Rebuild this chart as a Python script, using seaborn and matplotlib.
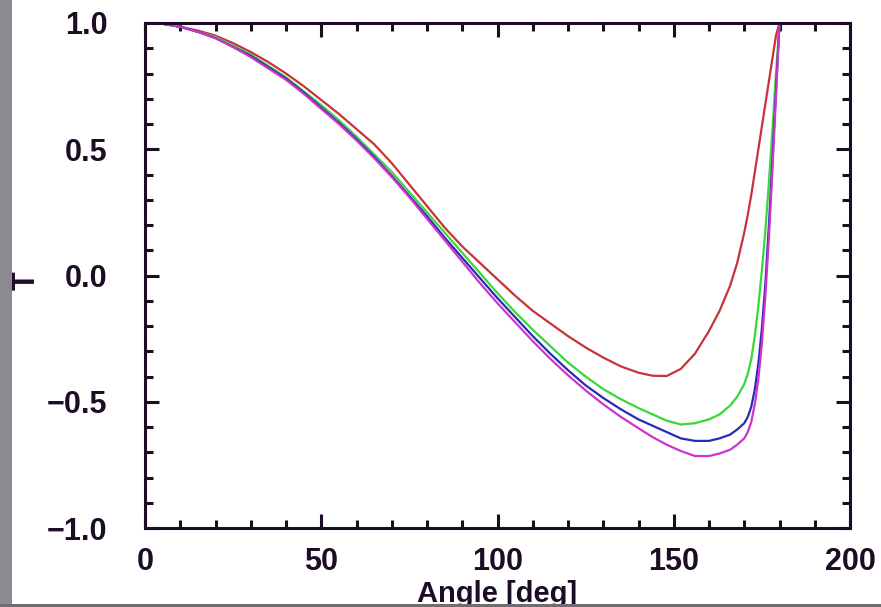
import matplotlib
matplotlib.use("Agg")
import matplotlib.pyplot as plt
import matplotlib.patches as mpatches
from matplotlib.ticker import MultipleLocator
import pandas as pd
import seaborn as sns

# Scattering angle grid (degrees)
angle = [0, 5, 10, 15, 20, 25, 30, 35, 40, 45, 50, 55, 60, 65, 70, 75, 80, 85, 90,
         95, 100, 105, 110, 115, 120, 125, 130, 135, 140,
         144, 148, 152, 156, 160, 163, 166, 168, 170, 171, 172, 173, 174, 175, 176,
         177, 178, 179, 180]

t_red = [1.0, 0.997, 0.985, 0.97, 0.95, 0.92, 0.885, 0.845, 0.80, 0.75, 0.695, 0.64,
         0.58, 0.52, 0.445, 0.36, 0.275, 0.19, 0.115, 0.05, -0.015, -0.08, -0.14,
         -0.19, -0.24, -0.285, -0.325, -0.36, -0.385,
         -0.397, -0.398, -0.37, -0.31, -0.22, -0.14, -0.04, 0.05, 0.17, 0.24, 0.32,
         0.41, 0.50, 0.59, 0.68, 0.77, 0.86, 0.95, 1.0]

t_green = [1.0, 0.997, 0.985, 0.965, 0.945, 0.91, 0.875, 0.83, 0.785, 0.73, 0.675,
           0.615, 0.55, 0.48, 0.41, 0.33, 0.25, 0.17, 0.09, 0.01, -0.07, -0.145,
           -0.215, -0.28, -0.345, -0.40, -0.45, -0.49, -0.525,
           -0.55, -0.575, -0.59, -0.585, -0.57, -0.55, -0.515, -0.48, -0.43, -0.39,
           -0.33, -0.24, -0.12, 0.02, 0.18, 0.37, 0.58, 0.80, 1.0]

t_blue = [1.0, 0.997, 0.985, 0.965, 0.94, 0.905, 0.87, 0.825, 0.78, 0.725, 0.665,
          0.605, 0.54, 0.47, 0.395, 0.315, 0.235, 0.15, 0.07, -0.01, -0.09, -0.165,
          -0.24, -0.31, -0.375, -0.435, -0.485, -0.53, -0.57,
          -0.595, -0.62, -0.645, -0.655, -0.655, -0.645, -0.63, -0.61, -0.585, -0.56,
          -0.52, -0.45, -0.35, -0.21, -0.03, 0.20, 0.46, 0.73, 1.0]

t_magenta = [1.0, 0.997, 0.985, 0.965, 0.94, 0.905, 0.865, 0.82, 0.775, 0.72, 0.66,
             0.60, 0.535, 0.465, 0.39, 0.31, 0.225, 0.14, 0.055, -0.03, -0.11, -0.185,
             -0.26, -0.33, -0.395, -0.455, -0.51, -0.56, -0.605,
             -0.64, -0.67, -0.695, -0.715, -0.715, -0.705, -0.69, -0.67, -0.645, -0.62,
             -0.58, -0.51, -0.41, -0.27, -0.08, 0.15, 0.42, 0.71, 1.0]

series_names = ["red", "green", "blue", "magenta"]
series_values = [t_red, t_green, t_blue, t_magenta]
series_colors = ["#c8323a", "#38d838", "#2a2ab8", "#cc34cc"]

x_ticks = [0, 50, 100, 150, 200]
y_ticks = [-1.0, -0.5, 0.0, 0.5, 1.0]
y_tick_labels = ["\u22121.0", "\u22120.5", "0.0", "0.5", "1.0"]

frames = [pd.DataFrame({"Angle": angle, "T": vals, "curve": name})
          for name, vals in zip(series_names, series_values)]
df = pd.concat(frames, ignore_index=True)

sns.set_theme(style="white")
plt.rcParams["font.family"] = ["Liberation Sans", "DejaVu Sans"]
plt.rcParams["font.weight"] = "bold"

ink = "#1c0c26"

fig = plt.figure(figsize=(8.81, 6.07), dpi=100)
fig.patch.set_facecolor("white")
ax = fig.add_axes([145 / 881, 1 - 528 / 607, 705 / 881, 505 / 607])

sns.lineplot(data=df, x="Angle", y="T", hue="curve", palette=series_colors,
             hue_order=series_names, estimator=None, sort=False, linewidth=1.6,
             legend=False, ax=ax)

ax.set_xlim(0, 200)
ax.set_ylim(-1.0, 1.0)
ax.set_xticks(x_ticks)
ax.set_xticklabels([str(v) for v in x_ticks])
ax.set_yticks(y_ticks)
ax.set_yticklabels(y_tick_labels)
ax.xaxis.set_minor_locator(MultipleLocator(10))
ax.yaxis.set_minor_locator(MultipleLocator(0.1))

for side in ["left", "right", "top", "bottom"]:
    ax.spines[side].set_visible(True)
    ax.spines[side].set_color(ink)
    ax.spines[side].set_linewidth(2.2)

ax.tick_params(axis="both", which="both", direction="in", top=True, right=True,
               bottom=True, left=True, color=ink, width=2.2)
ax.tick_params(axis="both", which="major", length=10)
ax.tick_params(axis="both", which="minor", length=6)
ax.tick_params(axis="y", which="major", pad=27, labelsize=22, labelcolor=ink)
ax.tick_params(axis="x", which="major", pad=14, labelsize=22, labelcolor=ink)

ax.set_xlabel("Angle [deg]", fontsize=21, fontweight="bold", color=ink)
ax.set_ylabel("T", fontsize=22, fontweight="bold", color=ink)
ax.xaxis.set_label_coords(0.5, -0.103)
ax.yaxis.set_label_coords(-0.147, 0.49)

# Grey frame strips along the left and bottom edges
fig.patches.append(mpatches.Rectangle((0, 0), 12 / 881, 1, transform=fig.transFigure,
                                      facecolor="#8c8a90", edgecolor="none", zorder=10))
fig.patches.append(mpatches.Rectangle((0, 0), 1, 3 / 607, transform=fig.transFigure,
                                      facecolor="#6e6e70", edgecolor="none", zorder=10))

fig.savefig("out.png", dpi=100, facecolor="white")
